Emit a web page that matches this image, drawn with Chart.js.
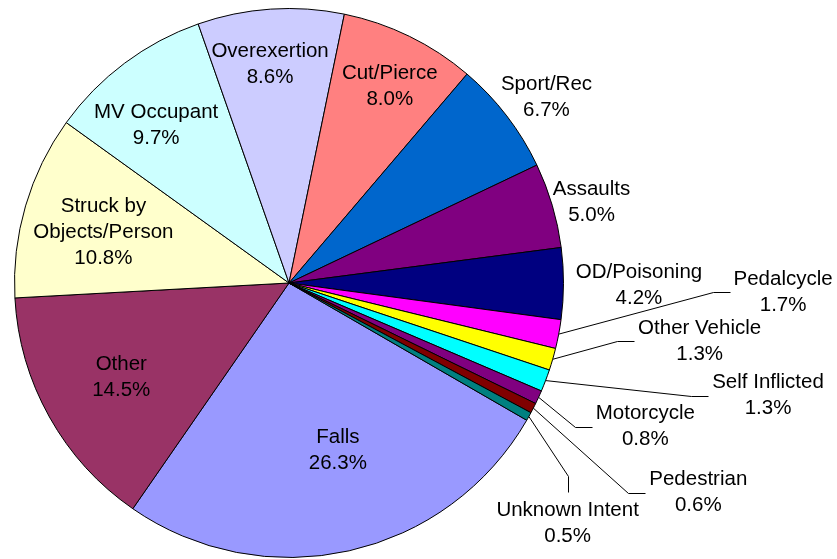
<!DOCTYPE html>
<html>
<head>
<meta charset="utf-8">
<script src="https://cdn.jsdelivr.net/npm/chart.js@4/dist/chart.umd.min.js"></script>
<style>
  html, body { margin: 0; padding: 0; background: #fff; }
  canvas { display: block; }
</style>
</head>
<body>
<canvas id="grafico" width="837" height="559"></canvas>
<script>
// data, largest slice first (drawn clockwise)
var categories = ['Falls', 'Other', 'Struck by\nObjects/Person', 'MV Occupant', 'Overexertion',
    'Cut/Pierce', 'Sport/Rec', 'Assaults', 'OD/Poisoning', 'Pedalcycle', 'Other Vehicle',
    'Self Inflicted', 'Motorcycle', 'Pedestrian', 'Unknown Intent'];
var percents = [26.3, 14.5, 10.8, 9.7, 8.6, 8.0, 6.7, 5.0, 4.2, 1.7, 1.3, 1.3, 0.8, 0.6, 0.5];
var colors = ['#9999FF', '#993366', '#FFFFCC', '#CCFFFF', '#CCCCFF', '#FF8080', '#0066CC',
    '#800080', '#000080', '#FF00FF', '#FFFF00', '#00FFFF', '#800080', '#800000', '#008080'];

// label block centre, in units of the pie radius from the pie centre
var labelPos = [[0.178, 0.611], [-0.611, 0.342], [-0.676, -0.185], [-0.484, -0.575], [-0.069, -0.798],
    [0.367, -0.716], [0.938, -0.676], [1.102, -0.295], [1.275, 0.007], [1.8, 0.033], [1.496, 0.211],
    [1.745, 0.411], [1.298, 0.524], [1.491, 0.764], [1.015, 0.876]];
// where a leader line meets the label
var leader = [null, null, null, null, null, null, null, null, null,
    'left', 'left', 'left', 'left', 'left', 'top'];

var labelsPlugin = {
    id: 'pieLabels',
    afterDatasetsDraw: function(chart) {
        var ctx = chart.ctx;
        var arcs = chart.getDatasetMeta(0).data;
        var lineH = 26;
        ctx.save();
        ctx.font = '20.5px "Liberation Sans", Arial, sans-serif';
        ctx.fillStyle = '#000';
        ctx.strokeStyle = '#000';
        ctx.lineWidth = 1;
        ctx.textAlign = 'center';
        ctx.textBaseline = 'middle';

        arcs.forEach(function(arc, i) {
            var p = arc.getProps(['x', 'y', 'startAngle', 'endAngle', 'outerRadius'], true);
            var r = p.outerRadius;
            var lines = categories[i].split('\n');
            lines.push(percents[i].toFixed(1) + '%');
            var cx = p.x + labelPos[i][0] * r;
            var cy = p.y + labelPos[i][1] * r;
            var top = cy - lineH * lines.length / 2;

            lines.forEach(function(t, k) {
                ctx.fillText(t, cx, top + lineH * (k + 0.5));
            });

            if (leader[i]) {
                var mid = (p.startAngle + p.endAngle) / 2;
                var x0 = p.x + Math.cos(mid) * r;
                var y0 = p.y + Math.sin(mid) * r;
                var x1, y1, x2, y2;
                if (leader[i] === 'left') {
                    var w = 0;
                    lines.forEach(function(t) { w = Math.max(w, ctx.measureText(t).width); });
                    x2 = Math.round(cx - w / 2 - 4) + 0.5;
                    y2 = Math.round(cy) + 0.5;
                    x1 = x2 - 17;
                    y1 = y2;
                } else {
                    x2 = Math.round(cx) + 0.5;
                    y2 = Math.round(top - 5) + 0.5;
                    x1 = x2;
                    y1 = y2 - 16;
                }
                ctx.beginPath();
                ctx.moveTo(x0, y0);
                ctx.lineTo(x1, y1);
                ctx.lineTo(x2, y2);
                ctx.stroke();
            }
        });
        ctx.restore();
    }
};

new Chart(document.getElementById('grafico'), {
    type: 'pie',
    data: {
        labels: categories,
        datasets: [{
            data: percents,
            backgroundColor: colors,
            borderColor: '#000',
            borderWidth: 1
        }]
    },
    options: {
        responsive: false,
        animation: false,
        rotation: 120,
        layout: { padding: { left: 14, right: 273, top: 8, bottom: 1 } },
        plugins: {
            legend: { display: false },
            tooltip: { enabled: false }
        }
    },
    plugins: [labelsPlugin]
});
</script>
</body>
</html>
